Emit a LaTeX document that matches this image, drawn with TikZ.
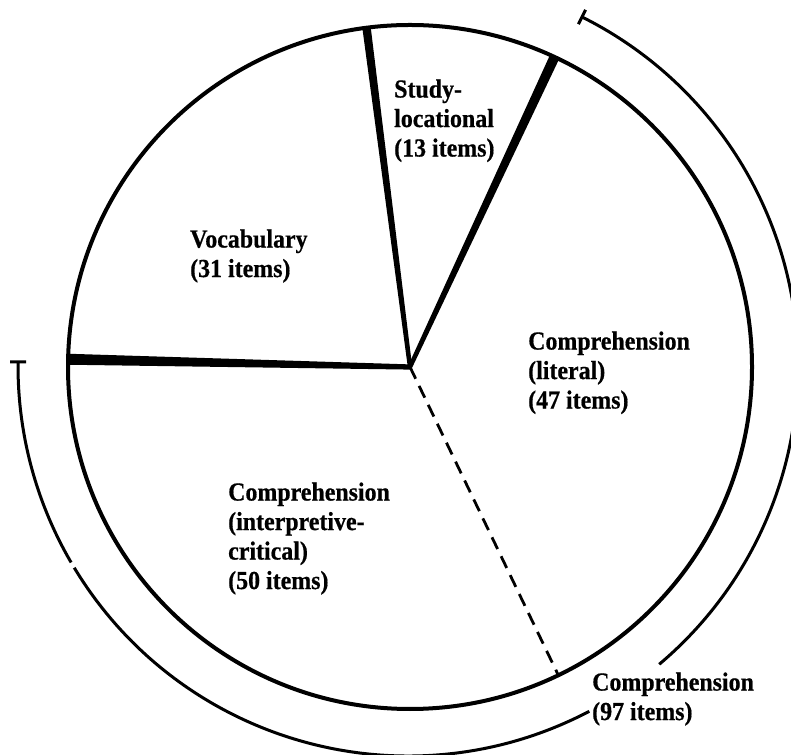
\documentclass[tikz,border=0pt]{standalone}
\usepackage{fontspec}
\newfontfamily\lblfont[FakeStretch=0.92, BoldFeatures={FakeBold=0.6}]{Liberation Serif}
\begin{document}
\begin{tikzpicture}[x=1pt,y=1pt,
  rim/.style={line width=4pt},
  band/.style={line width=3pt},
  seam/.style={fill=black},
  dashseam/.style={line width=2.8pt, dash pattern=on 13pt off 8pt},
  lbl/.style={anchor=north west, inner sep=0pt, align=left,
    font={\lblfont\bfseries\fontsize{26}{29.5}\selectfont}}]
\useasboundingbox (0,0) rectangle (791,754);
\fill[white] (0,0) rectangle (791,754);
% centre of the pie and of the outer bracket arc
\coordinate (C) at (410,387);
\coordinate (O) at (408,388);

% heavy seams between the sections (tapering towards the centre)
\fill[seam, shift={(410,387)}, rotate=97.3]  (0,2.2) -- (0,-2.2) -- (343,-4.2) -- (343,4.2) -- cycle;
\fill[seam, shift={(410,387)}, rotate=65.0]  (0,2.2) -- (0,-2.2) -- (343,-5) -- (343,5) -- cycle;
\fill[seam, shift={(410,387)}, rotate=178.7] (0,2.6) -- (0,-2.6) -- (343,-5.5) -- (343,5.5) -- cycle;
% dashed seam between the two comprehension sections
\draw[dashseam, shift={(410,387)}, rotate=-64.3] (0,0) -- (342,0);
% pie outline
\draw[rim] (C) circle[radius=342];

% outer bracket for the comprehension total
\draw[band] ([shift={(63.5:390)}]O) arc[start angle=63.5, end angle=-49.9, radius=390];
\draw[band] ([shift={(-62.3:390)}]O) arc[start angle=-62.3, end angle=-148.85, radius=390];
\draw[band] ([shift={(-149.75:390)}]O) arc[start angle=-149.75, end angle=-180.6, radius=390];
\draw[band, shift={(408,388)}, rotate=63.5] (382,0) -- (398,0);
\draw[band, shift={(408,388)}, rotate=-180.6] (382,0) -- (398,0);

% labels
\node[lbl] (study) at (394,674.7) {Study-\\locational\\(13 items)};
\node[lbl] (vocab) at (190,524.7) {Vocabulary\\(31 items)};
\node[lbl] (literal) at (528,422.7) {Comprehension\\(literal)\\(47 items)};
\node[lbl] (interp) at (228,271.7) {Comprehension\\(interpretive-\\critical)\\(50 items)};
\node[lbl] (total) at (592,81.7) {Comprehension\\(97 items)};
\end{tikzpicture}
\end{document}
